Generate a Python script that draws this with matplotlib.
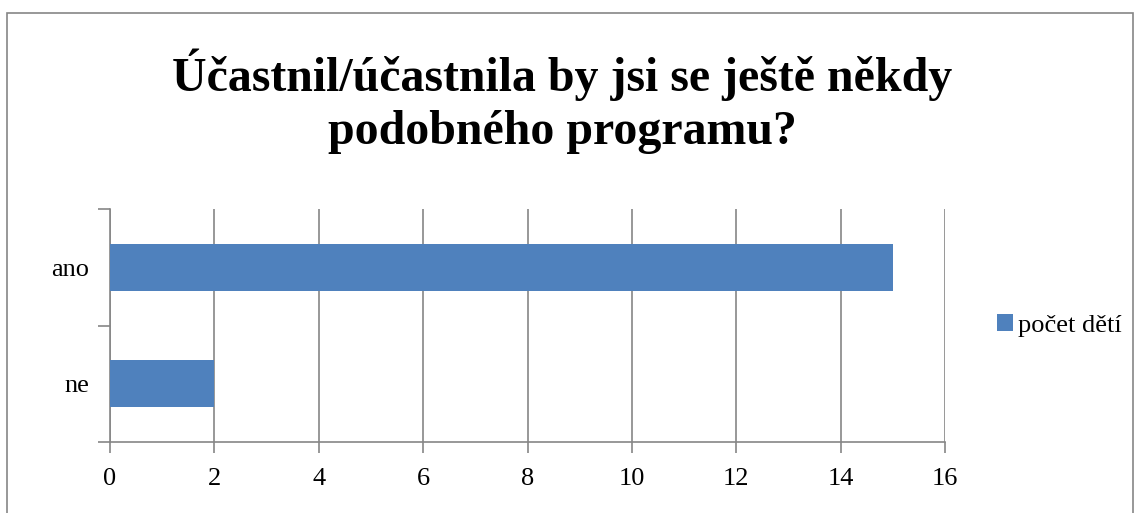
import matplotlib.pyplot as plt
from matplotlib.patches import Rectangle

categories = ["ne", "ano"]
values = [2, 15]
series_name = "počet dětí"
title = "Účastnil/účastnila by jsi se ještě někdy\npodobného programu?"
xticks = [0, 2, 4, 6, 8, 10, 12, 14, 16]

plt.rcParams['font.family'] = ['Liberation Serif', 'DejaVu Serif']

W, H = 1140, 513
fig = plt.figure(figsize=(W / 100, H / 100), dpi=100)

# outer chart border (bottom edge falls outside the picture)
fig.patches.append(Rectangle((7 / W, -0.05), (W - 14) / W, (H - 13) / H + 0.05, transform=fig.transFigure,
                             fill=False, edgecolor='#868686', linewidth=1.2))

ax = fig.add_axes([110 / W, (H - 442) / H, (945 - 110) / W, (442 - 209) / H])
ax.barh(range(len(categories)), values, height=0.4, color='#4F81BD', label=series_name, zorder=3)

ax.set_xlim(0, 16)
ax.set_ylim(-0.5, len(categories) - 0.5)
ax.set_xticks(xticks)
ax.set_xticklabels([str(t) for t in xticks], fontsize=19)
ax.set_yticks([-0.5, 0.5, 1.5])
ax.set_yticklabels([])
ax.set_yticks(range(len(categories)), minor=True)
ax.set_yticklabels(categories, minor=True, fontsize=19)
ax.tick_params(axis='y', which='minor', length=0, pad=15)
ax.tick_params(axis='y', which='major', length=9, color='#868686', width=1.2)
ax.tick_params(axis='x', length=8, color='#868686', width=1.2, pad=11)

ax.grid(axis='x', color='#868686', linewidth=1.2, zorder=0)
for s in ['top', 'right']:
    ax.spines[s].set_visible(False)
for s in ['left', 'bottom']:
    ax.spines[s].set_color('#868686')
    ax.spines[s].set_linewidth(1.2)

fig.text(562 / W, 1 - 101 / H, title, ha='center', va='center', fontsize=34.5,
         fontweight='bold', linespacing=1.25)

ax.legend(loc='center left', bbox_to_anchor=(1.04, 0.5), frameon=False, fontsize=19,
          handlelength=0.6, handleheight=0.6, handletextpad=0.2, borderpad=0.2)

fig.savefig("out.png", dpi=100)
